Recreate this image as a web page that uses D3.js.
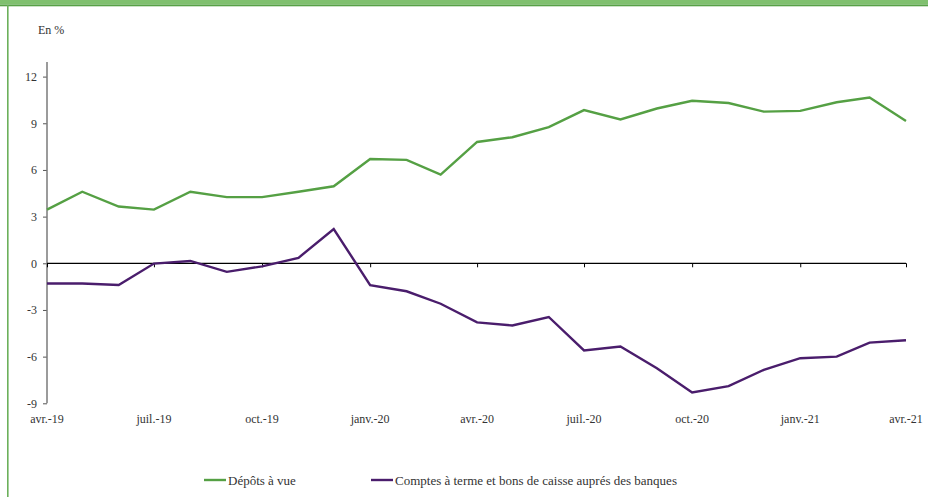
<!DOCTYPE html>
<html>
<head>
<meta charset="utf-8">
<script src="https://cdn.jsdelivr.net/npm/d3@7"></script>
<style>
  html, body { margin: 0; padding: 0; background: #fff; }
  svg { display: block; }
</style>
</head>
<body>
<svg id="chart" width="928" height="497"></svg>
<script>
// Monthly observations, April 2019 to April 2021
const months = [
  "2019-04","2019-05","2019-06","2019-07","2019-08","2019-09","2019-10","2019-11","2019-12",
  "2020-01","2020-02","2020-03","2020-04","2020-05","2020-06","2020-07","2020-08","2020-09",
  "2020-10","2020-11","2020-12","2021-01","2021-02","2021-03","2021-04"
];
// Dépôts à vue, annual growth (%)
const depotsAVue = [
  3.45, 4.6, 3.65, 3.45, 4.6, 4.25, 4.25, 4.6, 4.95,
  6.7, 6.65, 5.7, 7.8, 8.1, 8.75, 9.85, 9.25, 9.95,
  10.45, 10.3, 9.75, 9.8, 10.35, 10.65, 9.15
];
// Comptes à terme et bons de caisse auprès des banques, annual growth (%)
const comptesATerme = [
  -1.3, -1.3, -1.4, -0.02, 0.15, -0.55, -0.2, 0.35, 2.2,
  -1.4, -1.8, -2.6, -3.8, -4.0, -3.45, -5.6, -5.35, -6.75,
  -8.3, -7.9, -6.85, -6.1, -6.0, -5.1, -4.95
];
const yTicks = [-9, -6, -3, 0, 3, 6, 9, 12];
const xTickMonths = ["2019-04","2019-07","2019-10","2020-01","2020-04","2020-07","2020-10","2021-01","2021-04"];
const monthNames = ["janv.","févr.","mars","avr.","mai","juin","juil.","août","sept.","oct.","nov.","déc."];
const seriesNames = ["Dépôts à vue", "Comptes à terme et bons de caisse auprés des banques"];
const seriesColors = ["#55a044", "#4a1d6c"];

const FONT = "'Liberation Serif', 'Times New Roman', 'DejaVu Serif', serif";
const TEXT_COLOR = "#333";

const parse = d3.timeParse("%Y-%m");
const dates = months.map(parse);
const fmtLabel = d => monthNames[d.getMonth()] + "-" + String(d.getFullYear()).slice(2);

const svg = d3.select("#chart");

// Frame: green band on top and thin green rule on the left
svg.append("rect").attr("x", 0).attr("y", 0).attr("width", 928).attr("height", 4.5).attr("fill", "#7fc06e");
svg.append("rect").attr("x", 0).attr("y", 4.5).attr("width", 928).attr("height", 1.8).attr("fill", "#57a146");
svg.append("rect").attr("x", 7).attr("y", 5).attr("width", 1.6).attr("height", 492).attr("fill", "#6cb05b");

const x = d3.scaleTime().domain([dates[0], dates[dates.length - 1]]).range([47, 906]);
const y = d3.scaleLinear().domain([-9, 12]).range([403.3, 76.6]);

// Unit label
svg.append("text").attr("x", 38).attr("y", 34)
  .attr("font-family", FONT).attr("font-size", 12).attr("fill", TEXT_COLOR).text("En %");

// Y axis (labels use an ASCII hyphen for negatives)
const yAxis = d3.axisLeft(y).tickValues(yTicks).tickSize(4).tickPadding(6).tickFormat(d => String(d));
const gy = svg.append("g").attr("transform", "translate(47,0)").call(yAxis)
  .attr("font-family", FONT);
gy.select(".domain").remove();
gy.append("line").attr("x1", 0).attr("x2", 0).attr("y1", 62).attr("y2", y(-9)).attr("stroke", "#7a7a7a").attr("stroke-width", 1.5);
gy.selectAll(".tick line").attr("stroke", "#555");
gy.selectAll(".tick text").attr("font-size", 12).attr("fill", TEXT_COLOR).attr("font-family", FONT);

// Zero line with quarterly ticks
const xAxis = d3.axisBottom(x).tickValues(xTickMonths.map(parse)).tickSize(4).tickFormat("");
const gx = svg.append("g").attr("transform", `translate(0,${y(0)})`).call(xAxis);
gx.select(".domain").attr("stroke", "#000").attr("stroke-width", 1.2).attr("d", `M${x.range()[0]},0H${x.range()[1]}`);
gx.selectAll(".tick line").attr("stroke", "#000");

// Month labels under the plot
svg.append("g").selectAll("text")
  .data(xTickMonths.map(parse))
  .join("text")
  .attr("x", d => x(d))
  .attr("y", 423)
  .attr("text-anchor", "middle")
  .attr("font-family", FONT)
  .attr("font-size", 12)
  .attr("fill", TEXT_COLOR)
  .text(fmtLabel);

// Series lines
const line = d3.line().x((d, i) => x(dates[i])).y(d => y(d));
[depotsAVue, comptesATerme].forEach((vals, k) => {
  svg.append("path")
    .attr("d", line(vals))
    .attr("fill", "none")
    .attr("stroke", seriesColors[k])
    .attr("stroke-width", 2.4)
    .attr("stroke-linejoin", "miter");
});

// Legend
const legendX = [204, 371];
seriesNames.forEach((name, k) => {
  const g = svg.append("g").attr("transform", `translate(${legendX[k]},480)`);
  g.append("line").attr("x1", 0).attr("x2", 22).attr("y1", 0).attr("y2", 0)
    .attr("stroke", seriesColors[k]).attr("stroke-width", 2.4);
  g.append("text").attr("x", 24).attr("y", 4.5)
    .attr("font-family", FONT).attr("font-size", 13).attr("fill", TEXT_COLOR).text(name);
});
</script>
</body>
</html>
